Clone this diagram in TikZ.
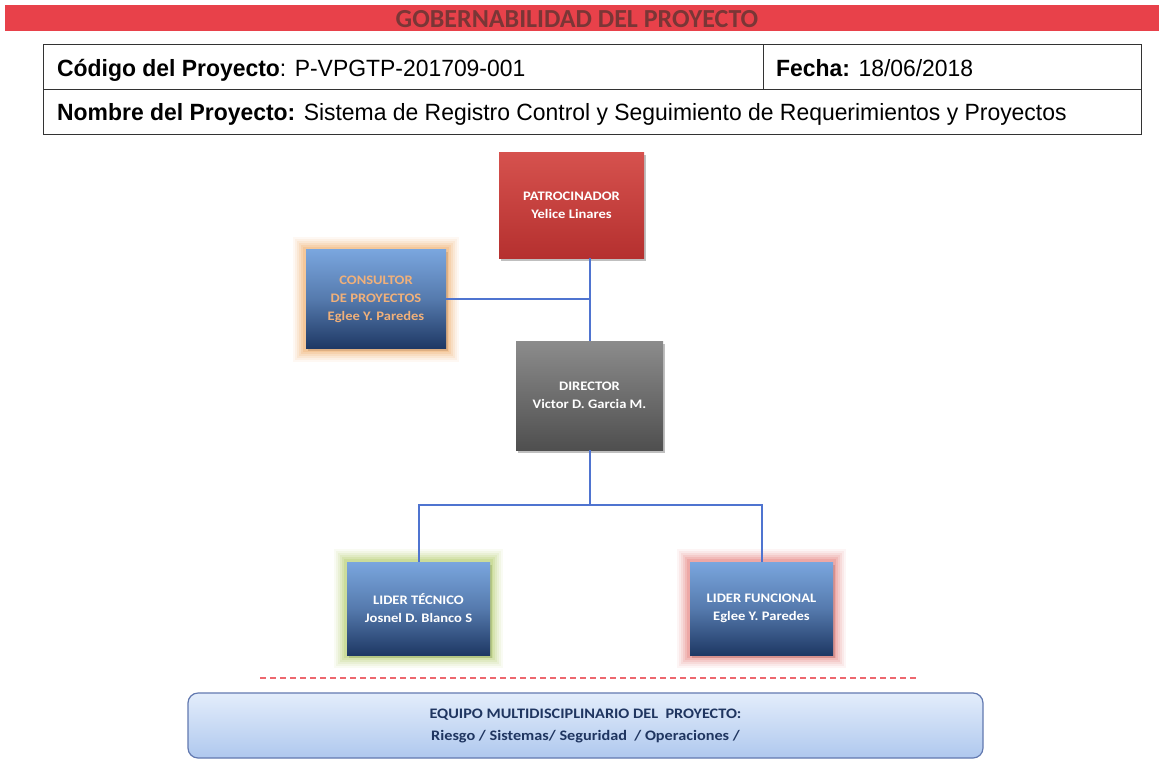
\documentclass[tikz,border=0pt]{standalone}
\usepackage{fontspec}
\setmainfont{Carlito}
\newfontfamily\arialfont[FakeStretch=0.975]{Liberation Sans}
\newfontfamily\boxfont[FakeStretch=1.12]{Carlito}
\usetikzlibrary{calc}

\definecolor{bannerred}{HTML}{E8414A}
\definecolor{titlered}{HTML}{7A3636}
\definecolor{linkblue}{HTML}{4F74D0}
\definecolor{bluetop}{HTML}{7AA6DE}
\definecolor{bluebot}{HTML}{1E3864}
\definecolor{redtop}{HTML}{D6524E}
\definecolor{redbot}{HTML}{B5302F}
\definecolor{graytop}{HTML}{8C8C8C}
\definecolor{graybot}{HTML}{4F4F4F}
\definecolor{teamtop}{HTML}{E3EDFB}
\definecolor{teambot}{HTML}{AFC8EE}
\definecolor{teamtext}{HTML}{1F3560}
\definecolor{glowor}{HTML}{F2A860}
\definecolor{glowgr}{HTML}{AECB62}
\definecolor{glowrd}{HTML}{E57673}
\definecolor{constext}{HTML}{F0B07A}

\tikzset{
  x=1pt, y=-1pt,
  cell/.style={draw=black!80, line width=1.3pt, anchor=north west, inner sep=0pt},
  celltext/.style={anchor=base west, font=\arialfont\fontsize{23.5}{28}\selectfont, inner sep=0pt},
  role/.style={minimum width=#1, minimum height=100pt, inner sep=2pt, align=center,
    text=white, font=\boxfont\bfseries\fontsize{13}{18}\selectfont,
    preaction={fill=black, fill opacity=0.25, transform canvas={xshift=1.5pt, yshift=-2.5pt}}},
  bluebox/.style={role=140pt, top color=bluetop, bottom color=bluebot,
    middle color=bluetop!60!bluebot},
  % soft halo built from stacked translucent strokes
  glow/.style={
    preaction={draw=#1, draw opacity=0.07, line width=26pt, rounded corners=12pt},
    preaction={draw=#1, draw opacity=0.09, line width=22pt, rounded corners=10pt},
    preaction={draw=#1, draw opacity=0.12, line width=18pt, rounded corners=8pt},
    preaction={draw=#1, draw opacity=0.15, line width=14pt, rounded corners=6pt},
    preaction={draw=#1, draw opacity=0.2, line width=10pt, rounded corners=4pt},
    preaction={draw=#1, draw opacity=0.25, line width=6pt, rounded corners=2pt}},
  link/.style={draw=linkblue, line width=2pt},
}

\begin{document}
\begin{tikzpicture}
\useasboundingbox (0,0) rectangle (1159,761);
\fill[white] (0,0) rectangle (1159,761);

% title banner
\fill[bannerred] (5,5) rectangle (1159,31);
\node[text=titlered, font=\bfseries\fontsize{26}{28}\selectfont, inner sep=0pt, anchor=base]
  (title) at (577,27) {GOBERNABILIDAD DEL PROYECTO};

% project data table
\node[cell, minimum width=720pt, minimum height=45pt] (code) at (43,44) {};
\node[cell, minimum width=378pt, minimum height=45pt] (date) at (763,44) {};
\node[cell, minimum width=1098pt, minimum height=45pt] (name) at (43,89) {};
\node[celltext] (codet) at ($(code.north west)+(14,32)$) {\textbf{Código del Proyecto}: P-VPGTP-201709-001};
\node[celltext] (datet) at ($(date.north west)+(13,32)$) {\textbf{Fecha:} 18/06/2018};
\node[celltext] (namet) at ($(name.north west)+(14,31)$) {\textbf{Nombre del Proyecto:} Sistema de Registro Control y Seguimiento de Requerimientos y Proyectos};

% organisation chart
\node[role=145pt, minimum height=106pt, top color=redtop, bottom color=redbot] (pat) at (571.5,205)
  {PATROCINADOR\\Yelice Linares};
\node[bluebox, glow=glowor, minimum height=99pt, text=constext] (con) at (376,299)
  {CONSULTOR\\DE PROYECTOS\\Eglee Y. Paredes};
\node[role=147pt, minimum height=109pt, top color=graytop, bottom color=graybot] (dir) at (589.5,395.5)
  {DIRECTOR\\Victor D. Garcia M.};
\node[bluebox, glow=glowgr, minimum width=143pt, minimum height=93pt] (tec) at (418.5,608.5)
  {LIDER TÉCNICO\\Josnel D. Blanco S};
\node[bluebox, glow=glowrd, minimum width=143pt, minimum height=93pt] (fun) at (761.5,608.5)
  {LIDER FUNCIONAL\\Eglee Y. Paredes};

\coordinate (j) at (dir.south |- 0,505);
\draw[link] (dir.north) -- (dir.north |- pat.south);
\draw[link] (con.east) -- (con.east -| dir.north);
\draw[link] (dir.south) -- (j);
\draw[link] (tec.north) |- (j) -| (fun.north);

% separator and team box
\coordinate (sepl) at (260,678);
\coordinate (sepr) at (918,678);
\draw[draw=bannerred!80!white, line width=1.4pt, dash pattern=on 6pt off 4pt] (sepl) -- (sepr);
\node[draw=linkblue!60!gray, line width=1.2pt, rounded corners=10pt, top color=teamtop, bottom color=teambot,
  minimum width=795pt, minimum height=65pt, text=teamtext, align=center,
  font=\boxfont\bfseries\fontsize{14.5}{22}\selectfont] (team) at (585.5,725.5)
  {EQUIPO MULTIDISCIPLINARIO DEL\ \ PROYECTO:\\Riesgo / Sistemas/ Seguridad\ \ / Operaciones /};
\end{tikzpicture}
\end{document}
